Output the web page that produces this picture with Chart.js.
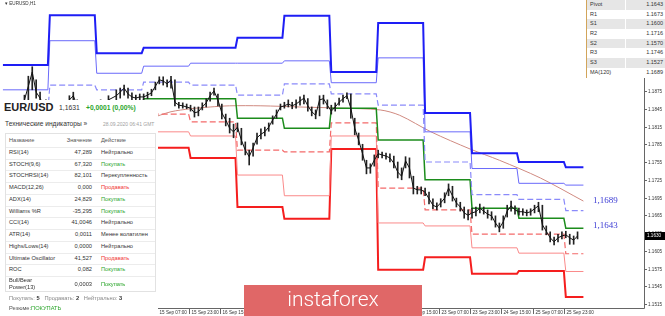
<!DOCTYPE html>
<html>
<head>
<meta charset="utf-8">
<script src="https://cdn.jsdelivr.net/npm/chart.js@4.4.0/dist/chart.umd.min.js"></script>
<style>
  html, body { margin: 0; padding: 0; background: #fff; }
  #wrap { position: relative; width: 665px; height: 316px; overflow: hidden; font-family: 'Liberation Sans', Arial, sans-serif; }
  #c { position: absolute; left: 0; top: 0; }
  .abs { position: absolute; white-space: nowrap; line-height: 1; }
  #sym { left: 5px; top: 2px; font-size: 4.6px; color: #333; }
  #panel { position: absolute; left: 0; top: 100px; width: 158px; height: 216px; background: #fff; }
  #tbl { position: absolute; left: 5px; top: 33px; width: 151px; height: 159px; border: 1px solid #e2e2e2; box-sizing: border-box; }
  .row { position: absolute; left: 0; width: 158px; font-size: 5.7px; color: #333; }
  .row span { position: absolute; top: 0; }
  .row .nm { left: 9px; }
  .row .vl { left: 40px; width: 52px; text-align: right; }
  .row .ac { left: 101px; }
  .sep { position: absolute; left: 6px; width: 149px; height: 1px; background: #ececec; }
  .buy { color: #2aa52a; }
  .sell { color: #f03030; }
  #piv { position: absolute; left: 586px; top: 0; width: 79px; }
  .prow { position: relative; height: 9.7px; line-height: 9.7px; font-size: 5.5px; color: #333; border-left: 1px solid #d2a55a; box-sizing: border-box; }
  .prow .pn { position: absolute; left: 3px; }
  .prow .pv { position: absolute; right: 2px; }
  .prow .dv { position: absolute; left: 38px; top: 0; width: 1px; height: 100%; background: #fff; }
  #logo { position: absolute; left: 244px; top: 285px; width: 178px; height: 31px; background: #e06767; color: #fff; font-family: Roboto, 'Open Sans', sans-serif; font-weight: 300; font-size: 21px; line-height: 29px; text-align: center; }
</style>
</head>
<body>
<div id="wrap">
  <canvas id="c" width="665" height="316"></canvas>
  <div class="abs" id="sym">&#9662; EURUSD,H1</div>
  <div id="piv"></div>
  <div id="panel">
    <div class="abs" style="left:4px;top:2px;font-size:11px;font-weight:bold;color:#222;">EUR/USD</div>
    <div class="abs" style="left:59px;top:5.3px;font-size:6.8px;color:#333;">1,1631</div>
    <div class="abs" style="left:86px;top:5.3px;font-size:6.7px;font-weight:bold;color:#2aa52a;">+0,0001 (0,00%)</div>
    <div class="abs" style="left:5px;top:21.4px;font-size:6.6px;color:#333;">Технические индикаторы »</div>
    <div class="abs" style="left:103px;top:22.4px;font-size:5px;color:#a0a0a0;">28.09.2020 06:41 GMT</div>
    <div id="tbl"></div>
    <div id="rows"></div>
    <div class="abs" style="left:9px;top:196px;font-size:5.7px;color:#888;">Покупать: <b style="color:#333">5</b>&nbsp;&nbsp;&nbsp;Продавать: <b style="color:#333">2</b>&nbsp;&nbsp;&nbsp;Нейтрально: <b style="color:#333">3</b></div>
    <div class="abs" style="left:9px;top:205.5px;font-size:5.7px;color:#555;">Резюме:<span class="buy">ПОКУПАТЬ</span></div>
  </div>
  <div id="logo">instaforex</div>
</div>
<script>
/* ── H1 bars, index 0 = 10 Sep 00:00 (weekends skipped) ───── */
const priceBar = [0,4,8,11,13,15,17,19,22,26,30,34,36,38,42,46,50,54,58,60,62,64,66,68,70,72,74,
  76,78,80,82,84,86,88,90,92,94,96,98,100,102,104,106,108,110,112,114,116,118,120,122,124,126,128,130,132,134,
  136,138,140,142,144,146,148,150,152,154,156,158,160,162,164,166,168,170,172,174,176,178,180,182,184,186,188,190,
  192,194,196,198,200,202,204,206,208,210,212,214,216,218,220,222,224,226,228,230,232,234,236,238,240,242,244,246,
  248,250,252,254,256,258,260,262,264,266,268,270,272,274,276,278,280,282,284,286,288,290,292,294];
const priceClose = [1.1840,1.1843,1.1850,1.1860,1.1883,1.1907,1.1873,1.1863,1.1843,1.1833,1.1840,1.1860,1.1867,1.1850,1.1840,1.1843,1.1850,1.1860,1.1867,1.1873,1.1880,1.1870,1.1865,1.1863,1.1865,1.1865,1.1868,
  1.1872,1.1883,1.1894,1.1892,1.1887,1.1894,1.1856,1.1851,1.1850,1.1848,
  1.1846,1.1838,1.1840,1.1848,1.1855,1.1867,1.1875,1.1860,1.1838,1.1826,
  1.1812,1.1806,1.1814,1.1792,1.1775,1.1764,1.1779,1.1796,1.1802,1.1806,
  1.1814,1.1826,1.1836,1.1848,1.1850,1.1853,1.1850,1.1853,1.1858,1.1863,
  1.1850,1.1840,1.1834,1.1860,1.1862,1.1851,1.1841,1.1848,1.1856,1.1862,
  1.1867,1.1846,1.1812,1.1792,1.1769,1.1745,1.1745,1.1758,1.1769,1.1767,
  1.1765,1.1762,1.1753,1.1738,1.1731,1.1757,1.1745,1.1711,1.1708,1.1708,
  1.1704,1.1693,1.1682,1.1679,1.1686,1.1694,1.1711,1.1698,1.1686,1.1679,
  1.1669,1.1665,1.1669,1.1671,1.1677,1.1672,1.1667,1.1664,1.1652,1.1643,
  1.1654,1.1672,1.1681,1.1674,1.1671,1.1671,1.1669,1.1671,1.1676,1.1681,
  1.1649,1.1638,1.1627,1.1620,1.1627,1.1630,1.1632,1.1627,1.1623,1.1630];
const priceHigh = [1.1846,1.1851,1.1856,1.1868,1.1900,1.1916,1.1894,1.1873,1.1860,1.1843,1.1850,1.1867,1.1873,1.1860,1.1850,1.1853,1.1860,1.1867,1.1877,1.1880,1.1885,1.1880,1.1872,1.1868,1.1870,1.1870,1.1873,
  1.1878,1.1890,1.1899,1.1899,1.1894,1.1900,1.1894,1.1856,1.1855,1.1853,
  1.1851,1.1848,1.1848,1.1855,1.1862,1.1873,1.1880,1.1870,1.1853,1.1836,
  1.1829,1.1819,1.1821,1.1812,1.1789,1.1775,1.1787,1.1804,1.1811,1.1814,
  1.1821,1.1833,1.1843,1.1853,1.1856,1.1860,1.1856,1.1860,1.1865,1.1868,
  1.1862,1.1848,1.1843,1.1867,1.1868,1.1860,1.1851,1.1855,1.1863,1.1868,
  1.1872,1.1870,1.1829,1.1804,1.1785,1.1758,1.1752,1.1767,1.1775,1.1772,
  1.1770,1.1769,1.1765,1.1755,1.1745,1.1764,1.1762,1.1731,1.1714,1.1713,
  1.1711,1.1704,1.1693,1.1686,1.1693,1.1703,1.1718,1.1714,1.1694,1.1687,
  1.1679,1.1674,1.1677,1.1679,1.1684,1.1679,1.1674,1.1671,1.1664,1.1652,
  1.1664,1.1682,1.1689,1.1681,1.1677,1.1676,1.1674,1.1676,1.1682,1.1687,
  1.1682,1.1647,1.1637,1.1628,1.1633,1.1637,1.1638,1.1633,1.1630,1.1637];
const priceLow = [1.1833,1.1836,1.1843,1.1853,1.1860,1.1877,1.1863,1.1851,1.1833,1.1823,1.1829,1.1850,1.1860,1.1840,1.1829,1.1833,1.1840,1.1850,1.1860,1.1863,1.1868,1.1863,1.1860,1.1858,1.1860,1.1860,1.1862,
  1.1867,1.1877,1.1887,1.1885,1.1882,1.1880,1.1850,1.1846,1.1846,1.1845,
  1.1841,1.1831,1.1833,1.1843,1.1848,1.1858,1.1868,1.1850,1.1828,1.1816,
  1.1804,1.1796,1.1806,1.1784,1.1767,1.1750,1.1765,1.1785,1.1794,1.1799,
  1.1807,1.1819,1.1829,1.1843,1.1846,1.1848,1.1845,1.1846,1.1851,1.1853,
  1.1841,1.1833,1.1828,1.1833,1.1853,1.1845,1.1836,1.1841,1.1851,1.1856,
  1.1862,1.1829,1.1801,1.1784,1.1758,1.1735,1.1736,1.1748,1.1762,1.1762,
  1.1760,1.1755,1.1745,1.1728,1.1725,1.1745,1.1728,1.1701,1.1701,1.1701,
  1.1698,1.1684,1.1676,1.1674,1.1679,1.1686,1.1698,1.1689,1.1679,1.1672,
  1.1660,1.1657,1.1660,1.1664,1.1669,1.1667,1.1660,1.1657,1.1645,1.1637,
  1.1643,1.1662,1.1672,1.1667,1.1665,1.1665,1.1664,1.1665,1.1669,1.1671,
  1.1640,1.1632,1.1620,1.1615,1.1620,1.1625,1.1627,1.1616,1.1616,1.1625];
const lastPrice = 1.1630;

/* ── daily pivot levels (one value per trading day) ───────── */
const dayStart = [0,24,48,72,96,120,144,168,192,216,240,264,288];
const lastBar = 297;
const r3 = [1.1919,1.2003,1.1939,1.1948,1.1948,1.1965,1.2002,1.1907,1.1990,1.1838,1.1770,1.1755,1.1746];
const r2 = [1.1877,1.1960,1.1905,1.1917,1.1922,1.1922,1.1926,1.1889,1.1931,1.1806,1.1744,1.1719,1.1716];
const r1 = [1.1840,1.1885,1.1877,1.1890,1.1885,1.1868,1.1887,1.1870,1.1851,1.1755,1.1700,1.1692,1.1673];
const pivot = [1.1798,1.1842,1.1843,1.1862,1.1862,1.1829,1.1812,1.1846,1.1792,1.1725,1.1677,1.1660,1.1643];
const s1 = [1.1761,1.1767,1.1815,1.1836,1.1823,1.1775,1.1772,1.1821,1.1711,1.1674,1.1633,1.1633,1.1600];
const s2 = [1.1719,1.1724,1.1781,1.1806,1.1799,1.1733,1.1698,1.1799,1.1652,1.1647,1.1610,1.1601,1.1570];
const s3 = [1.1682,1.1649,1.1753,1.1779,1.1762,1.1679,1.1659,1.1777,1.1573,1.1594,1.1566,1.1571,1.1527];

/* ── MA(120) ──────────────────────────────────────────────── */
const maBar = [50,75,86,96,106,116,132,152,173,193,203,219,239,254,275,297];
const maValue = [1.1819,1.1829,1.1840,1.1845,1.1848,1.1850,1.1850,1.1848,1.1846,1.1843,1.1834,1.1806,1.1777,1.1758,1.1728,1.1689];

/* ── axes ─────────────────────────────────────────────────── */
const yTicks = [1.1515,1.1545,1.1575,1.1605,1.1635,1.1665,1.1695,1.1725,1.1755,1.1785,1.1815,1.1845,1.1875];
const timeBars = [79,95,111,127,143,159,175,191,207,223,239,255,271,287];
const timeLabels = ['15 Sep 07:00','15 Sep 23:00','16 Sep 15:00','17 Sep 07:00','17 Sep 23:00','18 Sep 15:00','21 Sep 07:00',
  '21 Sep 23:00','22 Sep 15:00','23 Sep 07:00','23 Sep 23:00','24 Sep 15:00','25 Sep 07:00','25 Sep 23:00'];

/* ── side tables ──────────────────────────────────────────── */
const pivotNames = ['Pivot','R1','S1','R2','S2','R3','S3','MA(120)'];
const pivotValues = ['1.1643','1.1673','1.1600','1.1716','1.1570','1.1746','1.1527','1.1689'];
const indNames = ['RSI(14)','STOCH(9,6)','STOCHRSI(14)','MACD(12,26)','ADX(14)','Williams %R','CCI(14)','ATR(14)',
  'Highs/Lows(14)','Ultimate Oscillator','ROC','Bull/Bear<br>Power(13)'];
const indValues = ['47,289','67,320','82,101','0,000','24,829','-35,295','41,0046','0,0011','0,0000','41,527','0,082','0,0003'];
const indActions = ['Нейтрально','Покупать','Перекупленность','Продавать','Покупать','Покупать','Нейтрально',
  'Менее волатилен','Нейтрально','Продавать','Покупать','Покупать'];

// pivot table
const piv = document.getElementById('piv');
pivotNames.forEach((n, k) => {
  const r = document.createElement('div');
  r.className = 'prow';
  r.style.background = k % 2 === 0 ? '#e6e6e6' : '#fff';
  r.innerHTML = `<span class="pn">${n}</span><span class="dv"></span><span class="pv">${pivotValues[k]}</span>`;
  piv.appendChild(r);
});

// indicator rows
const rows = document.getElementById('rows');
const rowH = 11.75;
function addRow(k, name, val, act, cls, h) {
  const top = 35 + rowH * k;
  const r = document.createElement('div');
  r.className = 'row';
  r.style.top = top + 'px';
  r.style.height = h + 'px';
  r.style.lineHeight = h + 'px';
  if (cls === 'head') r.style.color = '#555';
  const two = name.includes('<br>');
  const nm = two ? `<span class="nm" style="line-height:7px;top:${(h - 14) / 2}px">${name}</span>` : `<span class="nm">${name}</span>`;
  r.innerHTML = nm + `<span class="vl">${val}</span><span class="ac ${cls}">${act}</span>`;
  rows.appendChild(r);
  if (k > 0) {
    const s = document.createElement('div');
    s.className = 'sep';
    s.style.top = top + 'px';
    rows.appendChild(s);
  }
}
addRow(0, 'Название', 'Значение', 'Действие', 'head', rowH);
indNames.forEach((n, k) => {
  const a = indActions[k];
  const cls = a === 'Покупать' ? 'buy' : a === 'Продавать' ? 'sell' : '';
  addRow(k + 1, n, indValues[k], a, cls, k === indNames.length - 1 ? 16 : rowH);
});

/* ── chart ────────────────────────────────────────────────── */
function steps(vals) {
  const pts = [];
  vals.forEach((v, d) => {
    const end = d < dayStart.length - 1 ? dayStart[d] + 23 : lastBar;
    pts.push({ x: dayStart[d], y: v }, { x: end, y: v });
  });
  return pts;
}
const level = (label, vals, color, width, dash) => ({
  type: 'line', label, data: steps(vals), borderColor: color, borderWidth: width,
  borderDash: dash || [], pointRadius: 0, tension: 0, order: 2
});

// right price scale, time labels, last price box and level tags
const mtAxes = {
  id: 'mtAxes',
  afterDraw(chart) {
    const { ctx, chartArea: a, scales: { x, y } } = chart;
    ctx.save();
    ctx.strokeStyle = '#666';
    ctx.lineWidth = 1;
    ctx.beginPath();
    ctx.moveTo(a.right + 0.5, a.top);
    ctx.lineTo(a.right + 0.5, a.bottom + 0.5);
    ctx.lineTo(a.left, a.bottom + 0.5);
    ctx.stroke();
    ctx.font = '4.6px "Liberation Sans", Arial';
    ctx.fillStyle = '#333';
    ctx.textBaseline = 'middle';
    yTicks.forEach(v => {
      const py = Math.round(y.getPixelForValue(v)) + 0.5;
      ctx.beginPath(); ctx.moveTo(a.right, py); ctx.lineTo(a.right + 3, py); ctx.stroke();
      ctx.fillText(v.toFixed(4), a.right + 4, py);
    });
    ctx.textBaseline = 'top';
    timeBars.forEach((b, k) => {
      const px = Math.round(x.getPixelForValue(b)) + 0.5;
      ctx.beginPath(); ctx.moveTo(px, a.bottom); ctx.lineTo(px, a.bottom + 6); ctx.stroke();
      ctx.fillText(timeLabels[k], px + 2, a.bottom + 2);
    });
    const cy = Math.round(y.getPixelForValue(lastPrice));
    ctx.fillStyle = '#000';
    ctx.fillRect(a.right + 1, cy - 4, 20, 8);
    ctx.fillStyle = '#fff';
    ctx.textBaseline = 'middle';
    ctx.fillText(lastPrice.toFixed(4), a.right + 3, cy);
    // level tags
    ctx.font = '9px "Liberation Serif", "Times New Roman", serif';
    ctx.fillStyle = '#3b3bd4';
    ctx.fillText(maValue[maValue.length - 1].toFixed(4).replace('.', ','), 593, y.getPixelForValue(maValue[maValue.length - 1]));
    ctx.fillText(pivot[pivot.length - 1].toFixed(4).replace('.', ','), 593, y.getPixelForValue(pivot[pivot.length - 1]) - 3);
    ctx.restore();
  }
};

new Chart(document.getElementById('c').getContext('2d'), {
  type: 'line',
  data: {
    datasets: [
      { type: 'line', data: priceBar.map((b, k) => ({ x: b, y: priceClose[k] })), borderColor: '#111', borderWidth: 1, pointRadius: 0, tension: 0, order: 0 },
      { type: 'bar', data: priceBar.map((b, k) => ({ x: b, y: [priceLow[k], priceHigh[k]] })), backgroundColor: '#222', barThickness: 1, order: 1 },
      { type: 'line', data: maBar.map((b, k) => ({ x: b, y: maValue[k] })), borderColor: '#d08a80', borderWidth: 1, pointRadius: 0, tension: 0.3, order: 3 },
      level('R3', r3, '#1e1ef5', 2),
      level('R2', r2, '#6a6afa', 1),
      level('R1', r1, '#8a8afa', 1.2, [6, 3]),
      level('Pivot', pivot, '#1c8c1c', 1.5),
      level('S1', s1, '#f46a6a', 1.2, [6, 3]),
      level('S2', s2, '#fa8a8a', 1),
      level('S3', s3, '#f51e1e', 2)
    ]
  },
  options: {
    responsive: false,
    animation: false,
    layout: { padding: { left: 0, top: 0, right: 21, bottom: 8 } },
    plugins: { legend: { display: false }, tooltip: { enabled: false } },
    scales: {
      x: { type: 'linear', display: false, min: -1.5, max: 328, offset: false },
      y: { type: 'linear', display: false, min: 1.15083, max: 1.20288 }
    }
  },
  plugins: [mtAxes]
});
</script>
</body>
</html>
